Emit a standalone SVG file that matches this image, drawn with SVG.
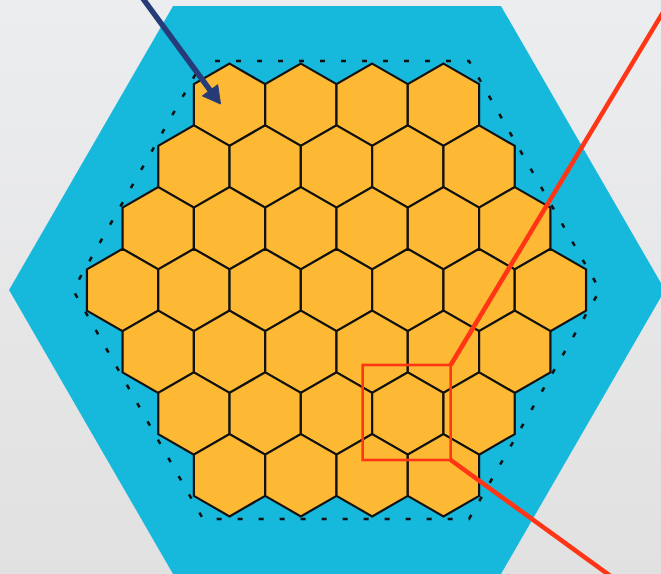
<svg xmlns="http://www.w3.org/2000/svg" xmlns:xlink="http://www.w3.org/1999/xlink" width="661" height="574" viewBox="0 0 661 574">
<style>
.cell{fill:#FDB933;stroke:#111;stroke-width:2.2;stroke-linejoin:miter}
.red{stroke:#FF3515;fill:none}
</style>
<defs>
<linearGradient id="bg" x1="0" y1="0" x2="0" y2="1">
<stop offset="0" stop-color="#ECEDEF"/>
<stop offset="1" stop-color="#E1E1E1"/>
</linearGradient>
<polygon id="hex" points="0,-41.17 35.65,-20.58 35.65,20.58 0,41.17 -35.65,20.58 -35.65,-20.58"/>
</defs>
<rect width="661" height="574" fill="url(#bg)"/>
<g id="outer">
<polygon points="173,6 501,6 665,290 501,574 173,574 9,290" fill="#16B8DC"/>
</g>
<g id="boundary">
<polygon points="203,61 469,61 600,290 469,519 203,519 73,290" fill="none" stroke="#111" stroke-width="2.6" stroke-dasharray="5 16" stroke-dashoffset="-12"/>
</g>
<g id="cells">
<g id="r0"><use xlink:href="#hex" class="cell" transform="translate(229.55,104.75)"/><use xlink:href="#hex" class="cell" transform="translate(300.85,104.75)"/><use xlink:href="#hex" class="cell" transform="translate(372.15,104.75)"/><use xlink:href="#hex" class="cell" transform="translate(443.45,104.75)"/></g>
<g id="r1"><use xlink:href="#hex" class="cell" transform="translate(193.9,166.5)"/><use xlink:href="#hex" class="cell" transform="translate(265.2,166.5)"/><use xlink:href="#hex" class="cell" transform="translate(336.5,166.5)"/><use xlink:href="#hex" class="cell" transform="translate(407.8,166.5)"/><use xlink:href="#hex" class="cell" transform="translate(479.1,166.5)"/></g>
<g id="r2"><use xlink:href="#hex" class="cell" transform="translate(158.25,228.25)"/><use xlink:href="#hex" class="cell" transform="translate(229.55,228.25)"/><use xlink:href="#hex" class="cell" transform="translate(300.85,228.25)"/><use xlink:href="#hex" class="cell" transform="translate(372.15,228.25)"/><use xlink:href="#hex" class="cell" transform="translate(443.45,228.25)"/><use xlink:href="#hex" class="cell" transform="translate(514.75,228.25)"/></g>
<g id="r3"><use xlink:href="#hex" class="cell" transform="translate(122.6,290)"/><use xlink:href="#hex" class="cell" transform="translate(193.9,290)"/><use xlink:href="#hex" class="cell" transform="translate(265.2,290)"/><use xlink:href="#hex" class="cell" transform="translate(336.5,290)"/><use xlink:href="#hex" class="cell" transform="translate(407.8,290)"/><use xlink:href="#hex" class="cell" transform="translate(479.1,290)"/><use xlink:href="#hex" class="cell" transform="translate(550.4,290)"/></g>
<g id="r4"><use xlink:href="#hex" class="cell" transform="translate(158.25,351.75)"/><use xlink:href="#hex" class="cell" transform="translate(229.55,351.75)"/><use xlink:href="#hex" class="cell" transform="translate(300.85,351.75)"/><use xlink:href="#hex" class="cell" transform="translate(372.15,351.75)"/><use xlink:href="#hex" class="cell" transform="translate(443.45,351.75)"/><use xlink:href="#hex" class="cell" transform="translate(514.75,351.75)"/></g>
<g id="r5"><use xlink:href="#hex" class="cell" transform="translate(193.9,413.5)"/><use xlink:href="#hex" class="cell" transform="translate(265.2,413.5)"/><use xlink:href="#hex" class="cell" transform="translate(336.5,413.5)"/><use xlink:href="#hex" class="cell" transform="translate(407.8,413.5)"/><use xlink:href="#hex" class="cell" transform="translate(479.1,413.5)"/></g>
<g id="r6"><use xlink:href="#hex" class="cell" transform="translate(229.55,475.25)"/><use xlink:href="#hex" class="cell" transform="translate(300.85,475.25)"/><use xlink:href="#hex" class="cell" transform="translate(372.15,475.25)"/><use xlink:href="#hex" class="cell" transform="translate(443.45,475.25)"/></g>
</g>
<g id="highlight">
<rect x="362.7" y="365" width="88" height="95" class="red" stroke-width="2.6"/>
</g>
<g id="connectors">
<line x1="450.7" y1="365" x2="665" y2="9" class="red" stroke-width="4.6"/>
<line x1="450.7" y1="460" x2="616" y2="580" class="red" stroke-width="4.6"/>
<line x1="142.5" y1="-2" x2="211" y2="91.5" stroke="#263B78" stroke-width="5.5"/>
<polygon points="220.5,104 217.7,84.7 202.3,95.9" fill="#263B78" stroke="#263B78" stroke-width="1" stroke-linejoin="miter"/>
</g>
</svg>
